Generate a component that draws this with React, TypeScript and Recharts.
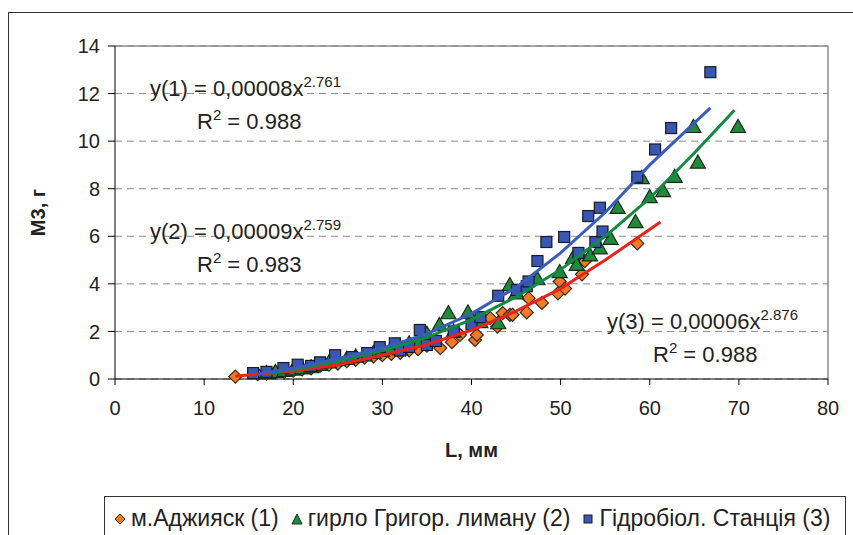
import { ScatterChart, Scatter, XAxis, YAxis, CartesianGrid, ReferenceLine } from "recharts";

// м.Аджияск (1)
const lenAdzh = [13.5, 16, 17, 18, 19, 20, 21, 22, 23, 24, 25, 26, 27, 28, 29, 30, 31, 32, 33, 34, 35, 36.5, 37.8, 38.7, 40.4, 40.6, 42.1, 42.9, 43.5, 44.3, 44.6, 46.2, 46.4, 47.9, 49.7, 49.9, 50.5, 52.4, 52.7, 58.6];
const massAdzh = [0.1, 0.2, 0.22, 0.28, 0.3, 0.35, 0.4, 0.45, 0.55, 0.6, 0.65, 0.75, 0.8, 0.9, 0.95, 1.0, 1.05, 1.1, 1.2, 1.25, 1.4, 1.3, 1.55, 1.85, 1.64, 1.85, 2.56, 2.2, 2.77, 2.7, 2.7, 2.8, 3.4, 3.2, 3.6, 4.1, 3.8, 4.4, 4.95, 5.7];

// гирло Григор. лиману (2)
const lenGyrlo = [17, 18, 19, 20, 21, 22, 23, 24, 25, 26, 27, 28, 29, 30, 31, 32, 33, 34, 35, 36.4, 37.4, 38, 39.6, 41, 43, 44.3, 45, 47.4, 49.9, 51.4, 51.8, 53.3, 54.4, 55.6, 56.4, 58.4, 59.1, 60, 61.5, 62.8, 64.9, 65.4, 69.9];
const massGyrlo = [0.25, 0.3, 0.35, 0.4, 0.45, 0.5, 0.6, 0.7, 0.8, 0.85, 0.95, 1.0, 1.1, 1.2, 1.3, 1.25, 1.5, 1.6, 1.9, 2.27, 2.77, 2.0, 2.8, 2.4, 2.35, 3.95, 3.6, 4.2, 4.5, 5.1, 4.8, 5.2, 5.5, 5.9, 7.2, 6.6, 8.45, 7.65, 7.9, 8.5, 10.6, 9.1, 10.6];

// Гідробіол. Станція (3)
const lenStation = [15.5, 17, 18.9, 20.5, 22, 23, 24.7, 26.6, 28.3, 29.7, 31.4, 32, 33, 34.2, 35, 36, 38, 40, 41, 43, 45.1, 46.2, 46.4, 47.4, 48.4, 50.4, 52, 53.1, 53.9, 54.4, 54.7, 58.6, 60.6, 62.4, 66.8];
const massStation = [0.25, 0.3, 0.46, 0.6, 0.55, 0.7, 1.0, 0.92, 1.09, 1.34, 1.5, 1.2, 1.35, 2.06, 1.43, 1.6, 2.0, 2.3, 2.6, 3.5, 3.74, 3.9, 4.1, 4.96, 5.76, 5.97, 5.3, 6.85, 5.76, 7.2, 6.2, 8.5, 9.65, 10.55, 12.9];

// trend lines
const trendLen1 = [13.5, 20, 25, 30, 35, 40, 45, 50, 55, 61.2];
const trendMass1 = [0.12, 0.33, 0.6, 1.0, 1.45, 2.05, 2.85, 3.8, 5.0, 6.6];
const trendLen2 = [17, 20, 25, 30, 35, 40, 45, 50, 55, 60, 65, 69.5];
const trendMass2 = [0.25, 0.4, 0.75, 1.2, 1.75, 2.5, 3.45, 4.6, 6.0, 7.6, 9.5, 11.3];
const trendLen3 = [16, 20, 25, 30, 35, 40, 45, 50, 55, 60, 66.8];
const trendMass3 = [0.2, 0.45, 0.85, 1.3, 1.9, 2.75, 3.85, 5.3, 7.0, 9.0, 11.4];

const xTicks = [0, 10, 20, 30, 40, 50, 60, 70, 80];
const yTicks = [0, 2, 4, 6, 8, 10, 12, 14];

const zip = (xs: number[], ys: number[]) => xs.map((x, i) => ({ x, y: ys[i] }));

const FONT = "'Liberation Sans', Arial, sans-serif";

const Diamond = (p: any) => {
  const { cx, cy } = p;
  const r = 6.5;
  return (
    <polygon
      points={`${cx},${cy - r} ${cx + r},${cy} ${cx},${cy + r} ${cx - r},${cy}`}
      fill="#f47a20"
      stroke="#3a2a20"
      strokeWidth={1.2}
    />
  );
};

const Triangle = (p: any) => {
  const { cx, cy } = p;
  const r = 7.5;
  return (
    <polygon
      points={`${cx},${cy - r} ${cx + r},${cy + r * 0.75} ${cx - r},${cy + r * 0.75}`}
      fill="#1e8a3c"
      stroke="#1a2a1a"
      strokeWidth={1.2}
    />
  );
};

const Square = (p: any) => {
  const { cx, cy } = p;
  const r = 5.5;
  return (
    <rect x={cx - r} y={cy - r} width={r * 2} height={r * 2} fill="#3857b0" stroke="#1a1a2a" strokeWidth={1.2} />
  );
};

const NoDot = () => <g />;

const eqStyle: React.CSSProperties = {
  position: "absolute",
  fontFamily: FONT,
  fontSize: 22,
  color: "#222",
  lineHeight: "22px",
  whiteSpace: "nowrap",
};
const supStyle: React.CSSProperties = { fontSize: 15, verticalAlign: "9px" };

function Equation({ left, top, n, coef, pow, r2, rLeft }: any) {
  return (
    <>
      <div style={{ ...eqStyle, left, top }}>
        y({n}) = {coef}x<span style={supStyle}>{pow}</span>
      </div>
      <div style={{ ...eqStyle, left: rLeft, top: top + 33 }}>
        R<span style={supStyle}>2</span> = {r2}
      </div>
    </>
  );
}

export default function App() {
  return (
    <div style={{ position: "absolute", left: 0, top: 0, width: 853, height: 535, overflow: "hidden", background: "#fff" }}>
      <div style={{ position: "absolute", left: 8, top: 12, width: 870, height: 560, border: "1px solid #333" }} />
      <ScatterChart
        width={853}
        height={535}
        margin={{ top: 46, right: 25, bottom: 76, left: 30 }}
        style={{ position: "absolute", left: 0, top: 0 }}
      >
        <CartesianGrid vertical={false} stroke="#8a8a8a" strokeDasharray="7 5" />
        <XAxis
          type="number"
          dataKey="x"
          domain={[0, 80]}
          ticks={xTicks}
          height={80}
          tickSize={6}
          tickMargin={16}
          stroke="#000"
          tick={{ fill: "#222", fontSize: 20, fontFamily: FONT }}
          label={{ value: "L, мм", position: "insideBottom", offset: 2, style: { fontFamily: FONT, fontSize: 20, fontWeight: "bold", fill: "#222" } }}
        />
        <YAxis
          type="number"
          dataKey="y"
          domain={[0, 14]}
          ticks={yTicks}
          width={85}
          tickSize={7}
          tickMargin={8}
          stroke="#000"
          tick={{ fill: "#222", fontSize: 20, fontFamily: FONT }}
          label={{ value: "М3, г", angle: -90, position: "insideLeft", offset: 8, style: { textAnchor: "middle", fontFamily: FONT, fontSize: 20, fontWeight: "bold", fill: "#222" } }}
        />
        <ReferenceLine y={14} stroke="#8a8a8a" strokeWidth={1.5} />
        <ReferenceLine x={80} stroke="#8a8a8a" strokeWidth={1.5} />
        <Scatter name="м.Аджияск (1)" data={zip(lenAdzh, massAdzh)} shape={Diamond} isAnimationActive={false} />
        <Scatter name="гирло Григор. лиману (2)" data={zip(lenGyrlo, massGyrlo)} shape={Triangle} isAnimationActive={false} />
        <Scatter name="Гідробіол. Станція (3)" data={zip(lenStation, massStation)} shape={Square} isAnimationActive={false} />
        <Scatter data={zip(trendLen1, trendMass1)} line={{ stroke: "#e8231c", strokeWidth: 3 }} shape={NoDot} isAnimationActive={false} />
        <Scatter data={zip(trendLen2, trendMass2)} line={{ stroke: "#138a42", strokeWidth: 3 }} shape={NoDot} isAnimationActive={false} />
        <Scatter data={zip(trendLen3, trendMass3)} line={{ stroke: "#3b5cbf", strokeWidth: 3 }} shape={NoDot} isAnimationActive={false} />
      </ScatterChart>

      <Equation left={150} top={71} n={1} coef="0,00008" pow="2.761" r2="0.988" rLeft={197} />
      <Equation left={150} top={214} n={2} coef="0,00009" pow="2.759" r2="0.983" rLeft={197} />
      <Equation left={607} top={304} n={3} coef="0,00006" pow="2.876" r2="0.988" rLeft={653} />

      <div
        style={{
          position: "absolute",
          left: 104,
          top: 496,
          width: 740,
          height: 60,
          border: "1px solid #333",
          background: "#fff",
          fontFamily: FONT,
          fontSize: 23,
          color: "#222",
        }}
      >
        <div style={{ display: "flex", alignItems: "center", height: 43, paddingLeft: 9, whiteSpace: "nowrap" }}>
          <svg width={12} height={12} style={{ marginRight: 5 }}>
            <polygon points="6,1 11,6 6,11 1,6" fill="#f47a20" stroke="#3a2a20" />
          </svg>
          <span style={{ marginRight: 12 }}>м.Аджияск (1)</span>
          <svg width={12} height={12} style={{ marginRight: 5 }}>
            <polygon points="6,1 11,11 1,11" fill="#1e8a3c" stroke="#1a2a1a" />
          </svg>
          <span style={{ marginRight: 12 }}>гирло Григор. лиману (2)</span>
          <svg width={12} height={12} style={{ marginRight: 5 }}>
            <rect x={2} y={2} width={8} height={8} fill="#3857b0" stroke="#1a1a2a" />
          </svg>
          <span>Гідробіол. Станція (3)</span>
        </div>
      </div>
    </div>
  );
}
